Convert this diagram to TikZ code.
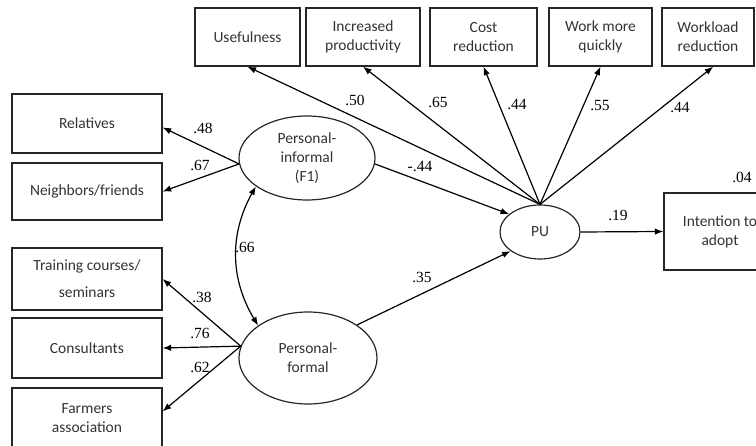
\documentclass[tikz,border=0pt]{standalone}
\usepackage{fontspec}
\setmainfont{Liberation Serif}
\newfontfamily\carlito{Carlito}
\usetikzlibrary{arrows.meta,shapes.geometric}
\tikzset{
  bx/.style ={draw=black!85,line width=1.3pt,font=\carlito\fontsize{15.5}{19}\selectfont,
              text=black!80,align=center,inner sep=0pt},
  lat/.style={ellipse,draw=black!85,line width=1.2pt,font=\carlito\fontsize{15.5}{19}\selectfont,
              text=black!80,align=center,inner sep=0pt},
  ar/.style ={-{Latex[length=8.5pt,width=6.5pt]},line width=1.2pt},
  dar/.style={{Latex[length=8.5pt,width=6.5pt]}-{Latex[length=8.5pt,width=6.5pt]},line width=1.2pt},
  lbl/.style={font=\fontsize{15.5}{17}\selectfont,inner sep=0pt},
}
\begin{document}
\begin{tikzpicture}[x=1pt,y=-1pt]
  \useasboundingbox (0,0) rectangle (756,446);
  % PU indicators (top row)
  \node[bx,minimum width=105pt,minimum height=58pt] (use)   at (247.5,37) {Usefulness};
  \node[bx,minimum width=114pt,minimum height=58pt] (inc)   at (363,37)   {Increased\\productivity};
  \node[bx,minimum width=107pt,minimum height=58pt] (cost)  at (483.5,37) {Cost\\reduction};
  \node[bx,minimum width=103pt,minimum height=58pt] (work)  at (600.5,37) {Work more\\quickly};
  \node[bx,minimum width=92pt,minimum height=58pt]  (wload) at (708,37)   {Workload\\reduction};
  % source indicators (left column)
  \node[bx,minimum width=150pt,minimum height=59pt] (rel)  at (87,123.5) {Relatives};
  \node[bx,minimum width=150pt,minimum height=57pt] (nb)   at (87,191.5) {Neighbors/friends};
  \node[bx,minimum width=150pt,minimum height=62pt] (trn)  at (87,279)   {Training courses/\\[8pt]seminars};
  \node[bx,minimum width=150pt,minimum height=60pt] (cons) at (87,348)   {Consultants};
  \node[bx,minimum width=150pt,minimum height=60pt] (farm) at (87,418)   {Farmers\\association};
  % latent variables
  \node[lat,minimum width=136pt,minimum height=84pt] (pi) at (307,158) {Personal-\\informal\\(F1)};
  \node[lat,minimum width=138pt,minimum height=92pt] (pf) at (308,358) {Personal-\\formal};
  \node[lat,minimum width=80pt,minimum height=54pt]  (pu) at (540,232) {PU};
  \node[bx,minimum width=112pt,minimum height=77pt]  (int) at (720,231.5) {Intention to\\adopt};
  % loadings
  \draw[ar] (pi.185) -- (rel.-3);
  \draw[ar] (pi.185) -- (nb.east);
  \draw[ar] (pf.170) -- (trn.east);
  \draw[ar] (pf.170) -- (cons.east);
  \draw[ar] (pf.170) -- (farm.5);
  \foreach \t in {use,inc,cost,work}
    \draw[ar] (pu.north) -- (\t.south);
  \draw[ar] (pu.north) -- (wload.-80);
  % structural paths
  \draw[dar] (pi.209) to[bend right=30] (pf.147);
  \draw[ar] (pi.-5) -- (pu.150);
  \draw[ar] (pf.34) -- (pu.213);
  \draw[ar] (pu.east) -- (int.west);
  % coefficients
  \node[lbl] (l48) at (203,128) {.48};
  \node[lbl] (l67) at (200,165) {.67};
  \node[lbl] (l66) at (245,247) {.66};
  \node[lbl] (l38) at (202,297) {.38};
  \node[lbl] (l76) at (200,333) {.76};
  \node[lbl] (l62) at (200,367) {.62};
  \node[lbl] (l50) at (355,100) {.50};
  \node[lbl] (l65) at (438,102) {.65};
  \node[lbl] (l44a) at (517,105) {.44};
  \node[lbl] (l55) at (600,106) {.55};
  \node[lbl] (l44b) at (680,108) {.44};
  \node[lbl] (lm44) at (420,167) {-.44};
  \node[lbl] (l35) at (422,277) {.35};
  \node[lbl] (l19) at (618,215) {.19};
  \node[lbl] (l04) at (742,177) {.04};
\end{tikzpicture}
\end{document}
